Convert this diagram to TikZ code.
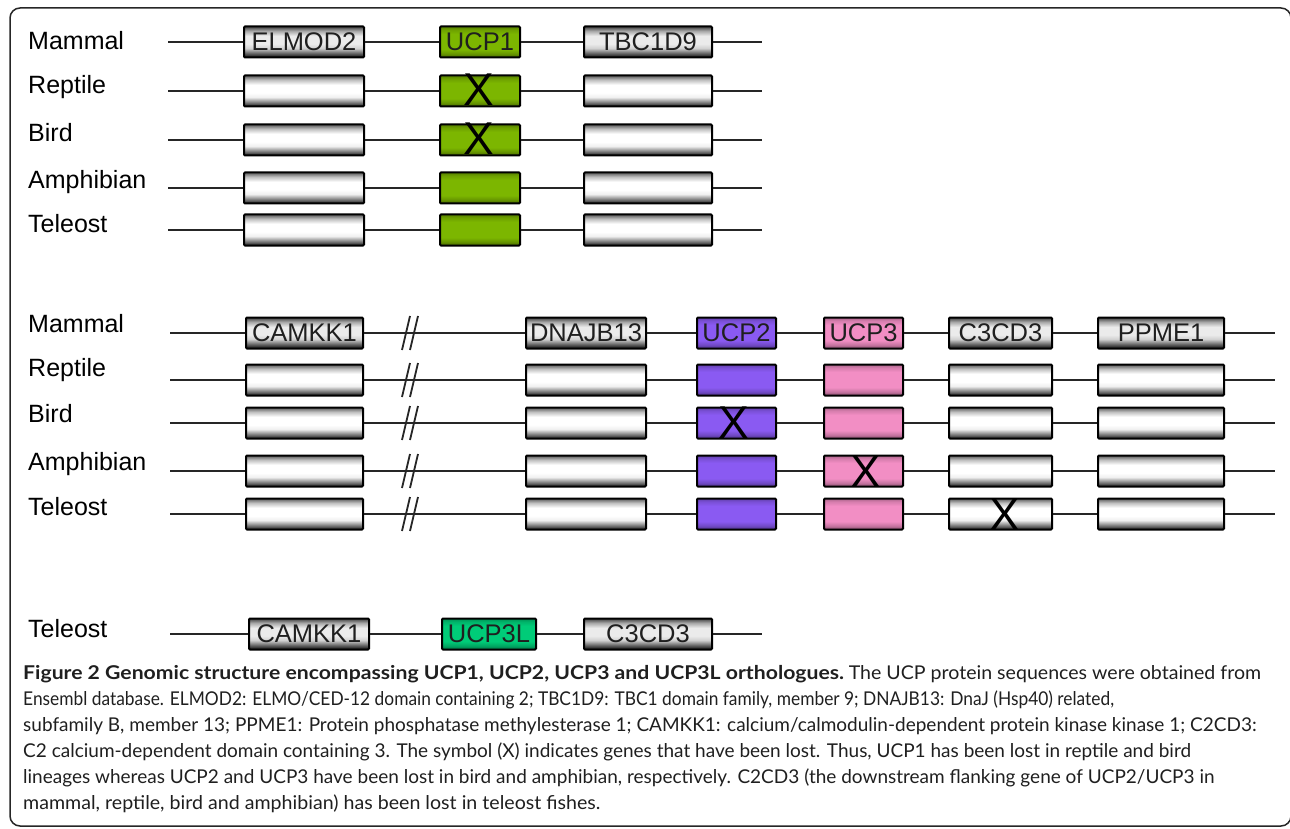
\documentclass[tikz,border=0pt]{standalone}
\usepackage{fontspec}
\usepackage{graphicx}
\setmainfont{Liberation Sans}
\newfontfamily\capfont{Lato}
\definecolor{cgreen}{RGB}{124,182,0}
\definecolor{cpurple}{RGB}{138,90,242}
\definecolor{cpink}{RGB}{242,142,196}
\definecolor{cmint}{RGB}{0,204,120}
\pgfdeclareverticalshading{shgray}{100bp}{color(0bp)=(black!90); color(25bp)=(black!90); color(31bp)=(black!55); color(40bp)=(black!6); color(47bp)=(white); color(60bp)=(white); color(68bp)=(black!25); color(75bp)=(black!65); color(100bp)=(black!65)}
\pgfdeclareverticalshading{shgraym}{100bp}{color(0bp)=(black!95); color(25bp)=(black!95); color(31bp)=(black!65); color(40bp)=(black!18); color(47bp)=(black!8); color(60bp)=(black!8); color(68bp)=(black!35); color(75bp)=(black!75); color(100bp)=(black!75)}
\newcommand\mkshade[2]{\pgfdeclareverticalshading{#1}{100bp}{color(0bp)=(#2!55!black); color(25bp)=(#2!55!black); color(31bp)=(#2!82!black); color(38bp)=(#2); color(63bp)=(#2); color(70bp)=(#2!88!black); color(75bp)=(#2!70!black); color(100bp)=(#2!70!black)}}
\mkshade{shgreen}{cgreen}
\mkshade{shpurple}{cpurple}
\mkshade{shpink}{cpink}
\mkshade{shmint}{cmint}
\tikzset{
  gene/.style={draw=black, line width=2pt, inner sep=0pt, minimum height=31pt, rounded corners=1pt,
    font=\fontsize{25.5}{25.5}\selectfont, text=black!88, shade},
  gbox/.style={gene, shading=shgray},
  gboxm/.style={gene, shading=shgraym},
  gboxg/.style={gene, shading=shgreen},
  gboxp/.style={gene, shading=shpurple},
  gboxk/.style={gene, shading=shpink},
  gboxt/.style={gene, shading=shmint},
  lab/.style={anchor=base west, inner sep=0pt, font=\fontsize{25}{25}\selectfont},
  wire/.style={line width=1.8pt, black!85},
  xmark/.style={anchor=base, inner sep=0pt, font=\fontsize{46}{46}\selectfont, text=black},
  capline/.style={anchor=base west, inner sep=0pt, font=\capfont\fontsize{19}{19}\selectfont, text=black!88},
  frame/.style={line width=1.5pt, black!85, rounded corners=10pt}
}
\begin{document}
\begin{tikzpicture}[x=1pt, y=-1pt]
\useasboundingbox (0,0) rectangle (1290,829);
\draw[frame] (10,8) rectangle (1291,826);

% ---------- top section ----------
\node[lab] (tl1) at (28,50) {Mammal};
\coordinate (ts1) at (168,42); \coordinate (te1) at (762,42);
\node[gboxm, minimum width=120pt] (ta1) at (304,42) {ELMOD2};
\node[gboxg, minimum width=80pt] (tb1) at (480,42) {UCP1};
\node[gboxm, minimum width=128pt] (tc1) at (648,42) {TBC1D9};
\draw[wire] (ts1) -- (ta1) -- (tb1) -- (tc1) -- (te1);
\foreach \i/\y/\b/\nm in {2/91/94/Reptile, 3/140/142/Bird, 4/188/189/Amphibian, 5/230/233/Teleost}{
  \node[lab] (tl\i) at (28,\b) {\nm};
  \coordinate (ts\i) at (168,\y); \coordinate (te\i) at (762,\y);
  \node[gbox, minimum width=120pt] (ta\i) at (304,\y) {};
  \node[gboxg, minimum width=80pt] (tb\i) at (480,\y) {};
  \node[gbox, minimum width=128pt] (tc\i) at (648,\y) {};
  \draw[wire] (ts\i) -- (ta\i) -- (tb\i) -- (tc\i) -- (te\i);
}
\node[xmark] (tx2) at (478.5,106) {X};
\node[xmark] (tx3) at (478.5,155) {X};

% ---------- middle section ----------
\node[lab] (ml1) at (28,332) {Mammal};
\coordinate (ms1) at (170,333); \coordinate (me1) at (1275,333);
\node[gboxm, minimum width=117pt] (ma1) at (304.5,333) {CAMKK1};
\node[gboxm, minimum width=120pt] (mb1) at (586,333) {DNAJB13};
\node[gboxp, minimum width=79pt] (mc1) at (736.5,333) {UCP2};
\node[gboxk, minimum width=79pt] (md1) at (863.5,333) {UCP3};
\node[gboxm, minimum width=103pt] (mf1) at (1000.5,333) {C3CD3};
\node[gboxm, minimum width=126pt] (mg1) at (1161,333) {PPME1};
\draw[wire] (ms1) -- (ma1) -- (mb1) -- (mc1) -- (md1) -- (mf1) -- (mg1) -- (me1);
\coordinate (mk1) at (410,333);
\draw[wire] (mk1) ++(-8,17) -- ++(8,-34);
\draw[wire] (mk1) ++(0,17) -- ++(8,-34);
\foreach \i/\y/\b/\nm in {2/380/376/Reptile, 3/423/422/Bird, 4/471/470/Amphibian, 5/514/515/Teleost}{
  \node[lab] (ml\i) at (28,\b) {\nm};
  \coordinate (ms\i) at (170,\y); \coordinate (me\i) at (1275,\y);
  \node[gbox, minimum width=117pt] (ma\i) at (304.5,\y) {};
  \node[gbox, minimum width=120pt] (mb\i) at (586,\y) {};
  \node[gboxp, minimum width=79pt] (mc\i) at (736.5,\y) {};
  \node[gboxk, minimum width=79pt] (md\i) at (863.5,\y) {};
  \node[gbox, minimum width=103pt] (mf\i) at (1000.5,\y) {};
  \node[gbox, minimum width=126pt] (mg\i) at (1161,\y) {};
  \draw[wire] (ms\i) -- (ma\i) -- (mb\i) -- (mc\i) -- (md\i) -- (mf\i) -- (mg\i) -- (me\i);
  \coordinate (mk\i) at (410,\y);
  \draw[wire] (mk\i) ++(-8,17) -- ++(8,-34);
  \draw[wire] (mk\i) ++(0,17) -- ++(8,-34);
}
\node[xmark] (mx3) at (734,438) {X};
\node[xmark] (mx4) at (866,487) {X};
\node[xmark] (mx5) at (1005,530) {X};

% ---------- bottom section ----------
\node[lab] (bl1) at (28,637) {Teleost};
\coordinate (bs1) at (170,634); \coordinate (be1) at (762,634);
\node[gboxm, minimum width=120pt] (ba1) at (309,634) {CAMKK1};
\node[gboxt, minimum width=94pt] (bb1) at (489,634) {UCP3L};
\node[gboxm, minimum width=128pt] (bc1) at (648,634) {C3CD3};
\draw[wire] (bs1) -- (ba1) -- (bb1) -- (bc1) -- (be1);

% ---------- caption ----------
\node[capline] (c1) at (23,679) {\scalebox{1.115}[1]{\textbf{Figure 2 Genomic structure encompassing UCP1, UCP2, UCP3 and UCP3L orthologues.}}\ \scalebox{1.03}[1]{The UCP protein sequences were obtained from}};
\node[capline] (c2) at (23,705) {\scalebox{0.913}[1]{Ensembl database. ELMOD2: ELMO/CED-12 domain containing 2; TBC1D9: TBC1 domain family, member 9; DNAJB13: DnaJ (Hsp40) related,}};
\node[capline] (c3) at (23,731) {subfamily B, member 13; PPME1: Protein phosphatase methylesterase 1; CAMKK1: calcium/calmodulin-dependent protein kinase kinase 1; C2CD3:};
\node[capline] (c4) at (23,757) {C2 calcium-dependent domain containing 3. The symbol (X) indicates genes that have been lost. Thus, UCP1 has been lost in reptile and bird};
\node[capline] (c5) at (23,783) {lineages whereas UCP2 and UCP3 have been lost in bird and amphibian, respectively. C2CD3 (the downstream flanking gene of UCP2/UCP3 in};
\node[capline] (c6) at (23,809) {\scalebox{1.032}[1]{mammal, reptile, bird and amphibian) has been lost in teleost fishes.}};
\end{tikzpicture}
\end{document}
